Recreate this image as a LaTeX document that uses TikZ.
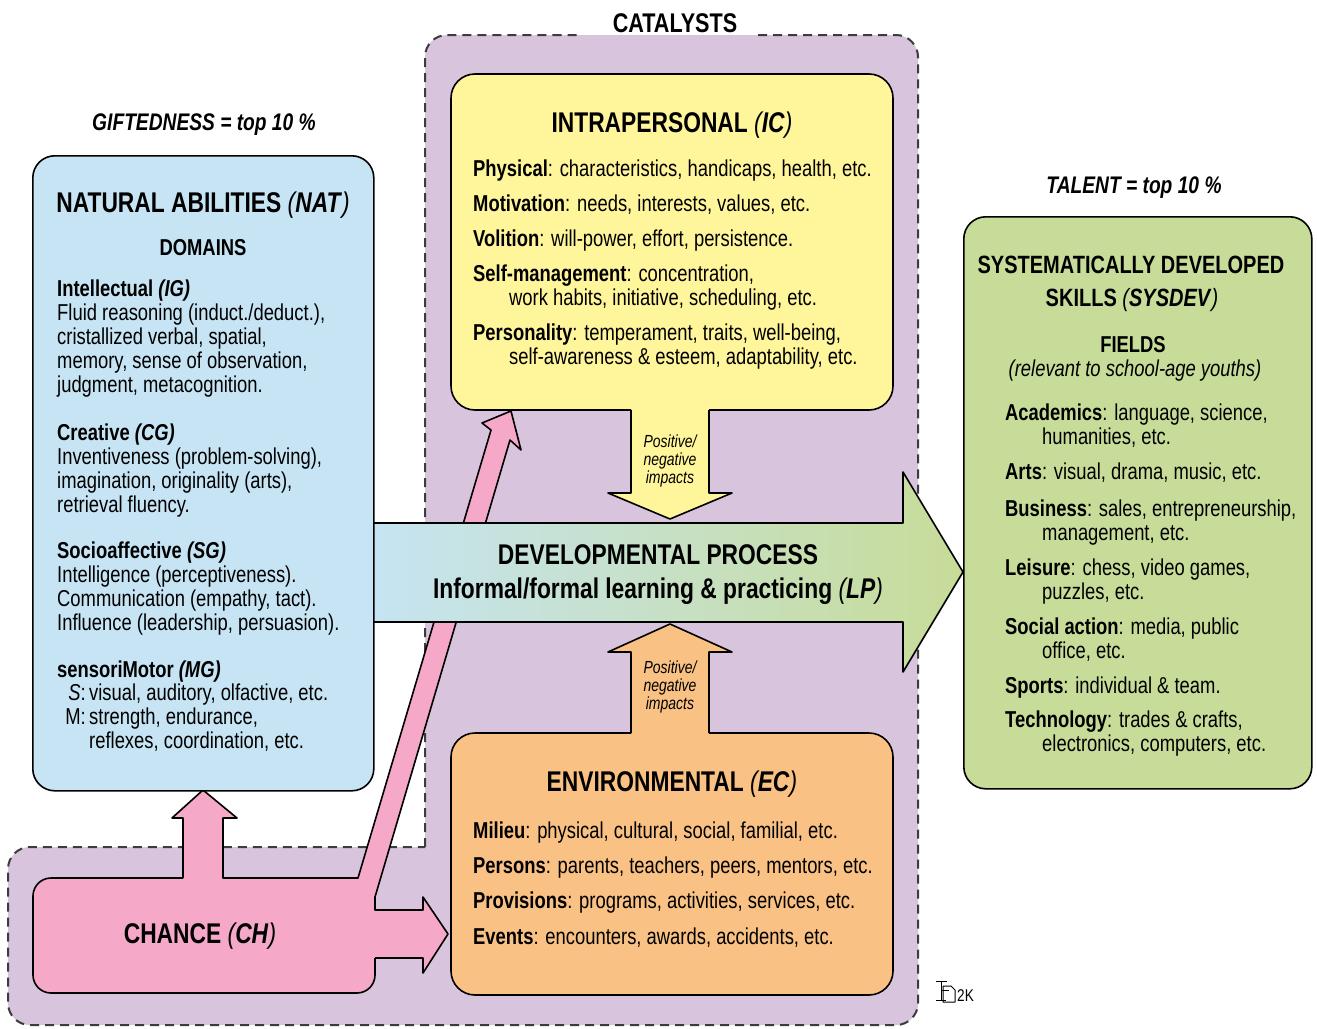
\documentclass[tikz,border=0pt]{standalone}
\usepackage{fontspec}
\setmainfont{Liberation Sans}[FakeStretch=0.8]
\definecolor{lav}{RGB}{217,196,221}
\definecolor{natb}{RGB}{198,228,244}
\definecolor{yel}{RGB}{255,245,154}
\definecolor{ora}{RGB}{249,193,131}
\definecolor{pnk}{RGB}{245,168,200}
\definecolor{grn}{RGB}{199,220,152}
\definecolor{devl}{RGB}{198,228,242}
\definecolor{dashc}{RGB}{60,60,60}
\tikzset{
  ln/.style={anchor=base west, inner sep=0pt, font=\fontsize{23}{25}\selectfont},
  ttl/.style={anchor=base, inner sep=0pt, font=\fontsize{28.5}{30}\selectfont\bfseries},
  systtl/.style={anchor=base, inner sep=0pt, font=\fontsize{25}{27}\selectfont\bfseries},
  sub/.style={anchor=base, inner sep=0pt, font=\fontsize{23}{25}\selectfont\bfseries},
  tag/.style={anchor=base, inner sep=0pt, font=\fontsize{24}{26}\selectfont\bfseries\itshape},
  imp/.style={anchor=base, inner sep=0pt, font=\fontsize{17.5}{18}\selectfont\itshape},
  outl/.style={draw=black, line width=1.6pt},
  dsh/.style={draw=dashc, line width=2pt, dash pattern=on 9pt off 6pt},
}
\newcommand{\lp}{{\mdseries\itshape(}}
\newcommand{\rp}{{\mdseries\itshape)}}
\begin{document}
\begin{tikzpicture}[x=1pt,y=-1pt,line join=round]
\useasboundingbox (0,0) rectangle (1317,1028);
\fill[white] (0,0) rectangle (1317,1028);
% catalysts region
\fill[lav, rounded corners=22pt] (425,35) rectangle (918,1025);
\fill[lav, rounded corners=22pt] (8,847) rectangle (918,1025);
\draw[dsh, rounded corners=22pt] (425,847) -- (425,35) -- (580,35);
\draw[dsh, rounded corners=22pt] (758,35) -- (918,35) -- (918,1025) -- (8,1025) -- (8,847) -- (425,847);
\node[font=\fontsize{27}{29}\selectfont\bfseries, anchor=base, inner sep=0pt] (cat) at (675,32) {CATALYSTS};
% chance
\fill[pnk, rounded corners=18pt] (33,878) rectangle (375,993);
\fill[pnk] (375,958) -- (423,958) -- (423,973) -- (448,934) -- (423,897) -- (423,910) -- (375,910) -- (375,897) -- (510,440) -- (521,450) -- (511,411) -- (482,423) -- (491,430) -- (358,878) -- (223,878) -- (223,818) -- (237,818) -- (203,790) -- (172,818) -- (183,818) -- (183,930) -- (375,930) -- cycle;
\draw[outl, rounded corners=18pt] (183,878) -- (33,878) -- (33,993) -- (375,993) -- (375,958);
\draw[outl] (375,958) -- (423,958) -- (423,973) -- (448,934) -- (423,897) -- (423,910) -- (375,910) -- (375,897) -- (510,440) -- (521,450) -- (511,411) -- (482,423) -- (491,430) -- (358,878) -- (223,878) -- (223,818) -- (237,818) -- (203,790) -- (172,818) -- (183,818) -- (183,878);
% developmental arrow
\shade[left color=devl, right color=grn] (373,523) -- (903,523) -- (903,472) -- (963,572) -- (903,672) -- (903,622) -- (373,622) -- cycle;
\draw[outl] (373,523) -- (903,523) -- (903,472) -- (963,572) -- (903,672) -- (903,622) -- (373,622);
% intrapersonal
\fill[yel, rounded corners=24pt] (451,74) rectangle (893,410);
\fill[yel] (631,400) -- (631,493) -- (608,493) -- (670,519) -- (732,493) -- (709,493) -- (709,400) -- cycle;
\draw[outl, rounded corners=24pt] (709,410) -- (893,410) -- (893,74) -- (451,74) -- (451,410) -- (631,410);
\draw[outl] (631,410) -- (631,493) -- (608,493) -- (670,519) -- (732,493) -- (709,493) -- (709,410);
% environmental
\fill[ora, rounded corners=24pt] (451,733) rectangle (893,995);
\fill[ora] (631,743) -- (631,652) -- (608,652) -- (670,624) -- (732,652) -- (709,652) -- (709,743) -- cycle;
\draw[outl, rounded corners=24pt] (631,733) -- (451,733) -- (451,995) -- (893,995) -- (893,733) -- (709,733);
\draw[outl] (631,733) -- (631,652) -- (608,652) -- (670,624) -- (732,652) -- (709,652) -- (709,733);
% natural abilities box
\node[outl, fill=natb, rounded corners=22pt, minimum width=341pt, minimum height=635pt, inner sep=0pt, anchor=north west] (nat) at (32,155) {};
% talent box
\node[outl, fill=grn, rounded corners=22pt, minimum width=348pt, minimum height=572pt, inner sep=0pt, anchor=north west] (sys) at (963,216) {};
% headings
\node[tag] (gift) at (204,130) {GIFTEDNESS = top 10 \%};
\node[ttl] (natT) at (203,212) {NATURAL ABILITIES \lp\textit{NAT}\rp};
\node[sub] (dom) at (203,255) {DOMAINS};
\node[ttl] (icT) at (672,132) {INTRAPERSONAL \lp\textit{IC}\rp};
\node[ttl] (ecT) at (672,791) {ENVIRONMENTAL \lp\textit{EC}\rp};
\node[ttl] (chT) at (200,943) {CHANCE \lp\textit{CH}\rp};
\node[ttl] (dev1) at (658,564) {DEVELOPMENTAL PROCESS};
\node[ttl] (dev2) at (658,598) {Informal/formal learning \& practicing \lp\textit{LP}\rp};
\node[tag] (talent) at (1134,193) {TALENT = top 10 \%};
\node[systtl] (sys1) at (1131,273) {SYSTEMATICALLY DEVELOPED};
\node[systtl] (sys2) at (1132,306) {SKILLS \lp\textit{SYSDEV}\rp};
\node[sub] (fields) at (1133,352) {FIELDS};
\node[anchor=base, inner sep=0pt, font=\fontsize{23}{25}\selectfont\itshape] (rel) at (1135,376) {(relevant to school-age youths)};
% impacts
\node[imp] (pa1) at (670,447) {Positive/};
\node[imp] (pa2) at (670,465) {negative};
\node[imp] (pa3) at (670,483) {impacts};
\node[imp] (pb1) at (670,673) {Positive/};
\node[imp] (pb2) at (670,691) {negative};
\node[imp] (pb3) at (670,709) {impacts};
% natural abilities text
\foreach \xx/\yy/\txt [count=\i] in {
57/296/{\textbf{Intellectual \textit{(IG)}}},
57/320/{Fluid reasoning (induct./deduct.),},
57/344/{cristallized verbal, spatial,},
57/368/{memory, sense of observation,},
57/392/{judgment, metacognition.},
57/440/{\textbf{Creative \textit{(CG)}}},
57/464/{Inventiveness (problem-solving),},
57/488/{imagination, originality (arts),},
57/512/{retrieval fluency.},
57/558/{\textbf{Socioaffective \textit{(SG)}}},
57/582/{Intelligence (perceptiveness).},
57/606/{Communication (empathy, tact).},
57/630/{Influence (leadership, persuasion).},
57/677/{\textbf{sensoriMotor \textit{(MG)}}},
89/700/{visual, auditory, olfactive, etc.},
89/724/{strength, endurance,},
89/748/{reflexes, coordination, etc.}}
  \node[ln] (na\i) at (\xx,\yy) {\txt};
\node[ln, anchor=base east] (sS) at (86,700) {\textit{S}:};
\node[ln, anchor=base east] (sM) at (86,724) {M:};
% intrapersonal text
\foreach \xx/\yy/\txt [count=\i] in {
473/176/{\textbf{Physical}: characteristics, handicaps, health, etc.},
473/211/{\textbf{Motivation}: needs, interests, values, etc.},
473/246/{\textbf{Volition}: will-power, effort, persistence.},
473/281/{\textbf{Self-management}: concentration,},
509/305/{work habits, initiative, scheduling, etc.},
473/340/{\textbf{Personality}: temperament, traits, well-being,},
509/364/{self-awareness \& esteem, adaptability, etc.}}
  \node[ln] (ic\i) at (\xx,\yy) {\txt};
% environmental text
\foreach \xx/\yy/\txt [count=\i] in {
473/838/{\textbf{Milieu}: physical, cultural, social, familial, etc.},
473/873/{\textbf{Persons}: parents, teachers, peers, mentors, etc.},
473/908/{\textbf{Provisions}: programs, activities, services, etc.},
473/944/{\textbf{Events}: encounters, awards, accidents, etc.}}
  \node[ln] (ec\i) at (\xx,\yy) {\txt};
% talent text
\foreach \xx/\yy/\txt [count=\i] in {
1005/420/{\textbf{Academics}: language, science,},
1042/444/{humanities, etc.},
1005/479/{\textbf{Arts}: visual, drama, music, etc.},
1005/516/{\textbf{Business}: sales, entrepreneurship,},
1042/540/{management, etc.},
1005/575/{\textbf{Leisure}: chess, video games,},
1042/599/{puzzles, etc.},
1005/634/{\textbf{Social action}: media, public},
1042/658/{office, etc.},
1005/693/{\textbf{Sports}: individual \& team.},
1005/727/{\textbf{Technology}: trades \& crafts,},
1042/751/{electronics, computers, etc.}}
  \node[ln] (tl\i) at (\xx,\yy) {\txt};
% logo
\draw[line width=1pt] (943,986) -- (951,986) -- (955,990) -- (955,1002) -- (943,1002) -- cycle;
\draw[line width=1pt] (936,981) -- (947,981) (941,981) -- (941,1000) (936,1000) -- (946,1000) (941,990) -- (949,990);
\node[anchor=base west, inner sep=0pt, font=\fontsize{17}{18}\selectfont] (logo) at (957,1001) {2K};
\end{tikzpicture}
\end{document}
